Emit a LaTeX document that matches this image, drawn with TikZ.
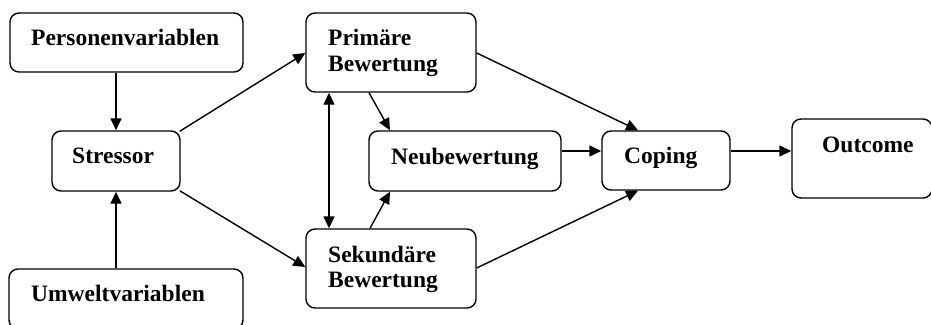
\documentclass[tikz,border=0pt]{standalone}
\usepackage{fontspec}
\setmainfont{Liberation Serif}
\usetikzlibrary{arrows.meta}
\begin{document}
\begin{tikzpicture}[x=1pt,y=-1pt,
  box/.style={draw=black, line width=1.4pt, rounded corners=9pt, inner sep=0pt},
  lbl/.style={anchor=base west, inner sep=0pt, font=\fontsize{23.5}{28}\selectfont\bfseries},
  conn/.style={line width=1.4pt, -{Triangle[length=12pt,width=11pt]}},
  dconn/.style={line width=1.4pt, {Triangle[length=12pt,width=11pt]}-{Triangle[length=12pt,width=11pt]}}]
\useasboundingbox (0,0) rectangle (931,324);
\clip (0,0) rectangle (931,324);
% boxes
\node[box, minimum width=233pt, minimum height=59pt] (pv) at (126.5,42.5) {};
\node[box, minimum width=128pt, minimum height=60pt] (st) at (116,161) {};
\node[box, minimum width=234pt, minimum height=60pt] (uv) at (126,299) {};
\node[box, minimum width=170pt, minimum height=79pt] (pb) at (391,52.5) {};
\node[box, minimum width=192pt, minimum height=60pt] (nb) at (465,161) {};
\node[box, minimum width=170pt, minimum height=79pt] (sb) at (391,268.5) {};
\node[box, minimum width=128pt, minimum height=59pt] (co) at (666,160.5) {};
\node[box, minimum width=140pt, minimum height=79pt] (oc) at (862,158.5) {};
% texts
\node[lbl] (tpv) at (31,45) {Personenvariablen};
\node[lbl] (tst) at (72,163) {Stressor};
\node[lbl] (tuv) at (31,301) {Umweltvariablen};
\node[lbl] (tpb1) at (328,45) {Primäre};
\node[lbl] (tpb2) at (328,71) {Bewertung};
\node[lbl] (tnb) at (391,164) {Neubewertung};
\node[lbl] (tsb1) at (328,262) {Sekundäre};
\node[lbl] (tsb2) at (328,287) {Bewertung};
\node[lbl] (tco) at (624,163) {Coping};
\node[lbl] (toc) at (822,152) {Outcome};
% connectors
\draw[conn] (pv.south -| st.north) -- (st.north);
\draw[conn] (uv.north -| st.south) -- (st.south);
\draw[conn] (st.north east) ++(-1,1) coordinate (s1) (s1) -- (pb.west |- 0,53);
\draw[conn] (st.south east) ++(-1,-1) coordinate (s2) (s2) -- (sb.west |- 0,267);
\draw[dconn] (pb.south -| 329,0) -- (sb.north -| 329,0);
\draw[conn] (pb.south -| 369,0) -- (nb.north -| 390,0);
\draw[conn] (sb.north -| 370,0) -- (nb.south -| 390,0);
\draw[conn] (pb.east |- 0,53) -- (co.north -| 638,0);
\draw[conn] (sb.east |- 0,268) -- (co.south -| 638,0);
\draw[conn] (nb.east |- 0,151) -- (co.west |- 0,151);
\draw[conn] (co.east |- 0,151) -- (oc.west |- 0,151);
\end{tikzpicture}
\end{document}
